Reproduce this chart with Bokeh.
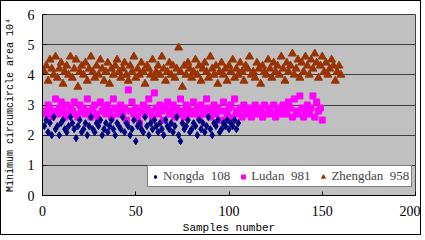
from bokeh.plotting import figure
from bokeh.models import ColumnDataSource, Legend, LegendItem, FixedTicker, Range1d
from bokeh.embed import file_html
from bokeh.resources import INLINE

nongda = [2.3,2.5,2.1,2.4,2.0,2.6,2.2,2.3,2.0,2.4,2.5,2.2,2.1,2.3,2.6,2.4,2.2,1.9,2.3,2.5,
          2.1,2.2,2.4,2.0,2.3,2.6,2.2,2.1,2.4,2.3,2.5,2.0,2.2,2.4,2.1,2.3,2.5,2.2,2.0,2.4,
          2.3,2.2,2.6,2.1,2.4,2.3,2.0,2.2,2.5,1.8,2.3,2.4,2.2,2.1,2.6,2.3,2.0,2.4,2.2,2.5,
          2.3,2.1,2.4,2.2,2.0,2.5,2.3,2.2,2.4,2.1,2.3,2.6,2.0,1.8,2.4,2.2,2.3,2.5,2.1,2.2,
          2.4,2.3,2.0,2.5,2.2,2.4,2.1,2.3,2.6,2.2,2.0,2.4,2.3,2.5,2.1,2.2,2.4,2.3,2.5,2.2,
          2.4,2.3,2.5,2.2,2.4]
ludan = [2.8,2.7,3.0,2.9,2.6,2.8,3.2,2.7,2.9,3.1,2.8,2.6,3.0,2.7,2.9,2.8,3.1,2.7,2.6,3.0,
         2.8,2.9,2.7,3.2,2.8,2.6,2.9,3.0,2.7,2.5,3.1,2.8,2.9,2.7,3.0,2.8,2.6,3.2,2.9,2.7,
         2.8,3.0,2.7,2.9,2.5,3.5,2.8,3.1,2.7,2.9,2.6,2.4,2.8,3.0,2.7,2.9,3.2,2.8,2.6,3.4,
         2.9,2.7,3.0,2.8,2.5,2.9,3.1,2.7,2.8,3.0,2.6,2.9,2.7,3.2,2.8,2.6,3.0,2.9,2.7,2.8,
         3.1,2.7,2.9,2.6,3.0,2.8,2.7,3.2,2.9,2.6,2.8,3.0,2.7,2.9,2.8,2.5,3.1,2.8,2.7,2.9,
         3.0,2.6,3.2,2.8,2.7,2.9,2.6,3.0,2.8,2.7,2.9,2.6,2.8,3.0,2.7,2.9,2.8,2.6,3.0,2.7,
         2.8,2.9,2.7,3.0,2.6,2.8,2.9,2.7,3.0,2.8,2.7,3.1,2.9,2.6,3.2,2.8,2.7,3.3,2.9,2.6,
         2.8,3.0,2.7,2.9,3.3,2.6,3.1,2.8,2.9,2.5]
zhengdan = [4.1,4.3,3.8,4.5,4.2,4.0,4.6,3.9,4.2,4.4,3.7,4.1,4.3,4.0,4.6,3.9,4.2,4.5,3.6,4.1,
            4.3,4.0,4.4,3.8,4.2,4.6,4.1,3.9,4.3,4.0,4.5,4.2,3.8,4.1,4.4,3.7,4.2,4.0,4.3,4.5,
            4.1,3.9,4.2,4.4,4.0,3.8,4.3,4.1,4.6,3.9,4.2,4.0,4.4,4.1,3.7,4.3,4.2,4.0,4.5,3.9,
            4.1,4.3,4.0,4.6,4.2,3.8,4.1,4.4,4.0,4.3,3.9,4.2,4.9,4.1,3.6,4.3,4.0,4.4,4.2,3.9,
            4.1,4.5,4.0,4.3,3.8,4.2,4.4,4.1,3.9,4.6,4.2,4.0,4.3,3.7,4.1,4.4,4.0,4.2,3.8,4.3,
            4.1,4.5,3.9,4.2,4.0,4.4,4.1,3.8,4.3,4.2,4.6,4.0,4.1,3.9,4.4,4.2,3.7,4.3,4.1,4.0,
            4.5,4.2,3.9,4.4,4.1,4.3,4.0,4.6,4.2,3.8,4.4,4.1,4.3,4.7,4.0,4.2,4.5,3.9,4.4,4.1,
            4.6,4.3,4.0,4.5,4.2,4.7,4.4,3.9,4.3,4.6,4.1,4.4,4.0,4.2,4.5,4.3,3.8,4.1,4.3,4.0]
series_names = ["Nongda  108", "Ludan  981", "Zhengdan  958"]
x_ticks = [0, 50, 100, 150, 200]
y_ticks = [0, 1, 2, 3, 4, 5, 6]

p = figure(width=421, height=235, output_backend="svg", toolbar_location=None,
           x_range=Range1d(0, 200), y_range=Range1d(0, 6),
           min_border_left=40, min_border_right=7, min_border_top=13, min_border_bottom=40)
p.styles = {"border": "1px solid black", "box-sizing": "border-box"}
p.background_fill_color = "#C0C0C0"
p.border_fill_color = "white"
p.outline_line_color = "#404040"
p.outline_line_width = 1

s1 = ColumnDataSource(dict(x=list(range(1, len(nongda) + 1)), y=nongda))
s2 = ColumnDataSource(dict(x=list(range(1, len(ludan) + 1)), y=ludan))
s3 = ColumnDataSource(dict(x=list(range(1, len(zhengdan) + 1)), y=zhengdan))

r3 = p.scatter("x", "y", source=s3, marker="triangle", size=8, fill_color="#993300", line_color="#993300")
r2 = p.scatter("x", "y", source=s2, marker="square", size=6, fill_color="#FF00FF", line_color="#FF00FF")
r1 = p.scatter("x", "y", source=s1, marker="diamond", size=7, fill_color="#000080", line_color="#000080")

p.xgrid.visible = False
p.ygrid.grid_line_color = "#404040"
p.ygrid.grid_line_width = 1
p.ygrid.ticker = FixedTicker(ticks=y_ticks)

for ax in (p.xaxis[0], p.yaxis[0]):
    ax.major_tick_in = 4
    ax.major_tick_out = 0
    ax.minor_tick_in = 0
    ax.minor_tick_out = 0
    ax.axis_line_color = "black"
    ax.major_tick_line_color = "black"
    ax.major_label_text_font = "Liberation Serif"
    ax.major_label_text_font_size = "14px"
    ax.major_label_text_color = "black"
    ax.axis_label_text_font = "Liberation Mono"
    ax.axis_label_text_font_style = "normal"
    ax.axis_label_text_color = "black"

p.xaxis.ticker = FixedTicker(ticks=x_ticks)
p.yaxis.ticker = FixedTicker(ticks=y_ticks)
p.xaxis.axis_label = "Samples number"
p.xaxis.axis_label_text_font_size = "11px"
p.xaxis.major_label_standoff = 10
p.xaxis.axis_label_standoff = 3
p.yaxis.axis_label = "Minimum circumcircle area 10\u2074"
p.yaxis.axis_label_text_font_size = "10px"
p.yaxis.major_label_standoff = 8
p.yaxis.axis_label_standoff = 9

legend = Legend(items=[LegendItem(label=series_names[0], renderers=[r1]),
                       LegendItem(label=series_names[1], renderers=[r2]),
                       LegendItem(label=series_names[2], renderers=[r3])],
                orientation="horizontal", location=(105, 8), margin=0,
                padding=2, spacing=8, glyph_width=10, glyph_height=13, label_standoff=3,
                label_text_font="Liberation Serif", label_text_font_size="13px",
                label_height=13, border_line_color="black", background_fill_color="white",
                background_fill_alpha=1)
p.add_layout(legend, "center")

open("out.html", "w").write(file_html(p, INLINE))
